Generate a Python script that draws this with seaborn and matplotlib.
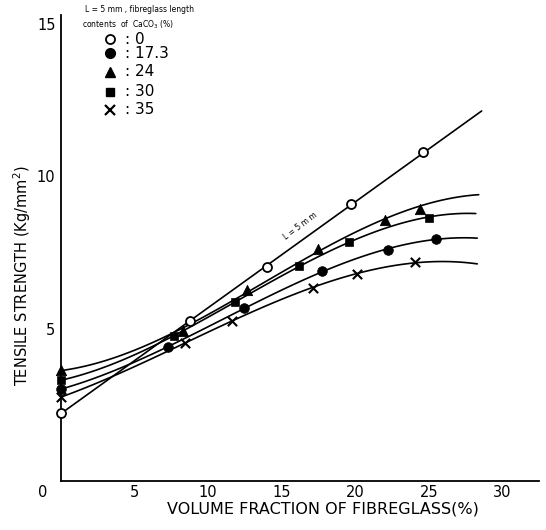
import numpy as np
import pandas as pd
import matplotlib
matplotlib.use("Agg")
import matplotlib.pyplot as plt
import matplotlib.transforms as mtransforms
from matplotlib.lines import Line2D
import seaborn as sns

# ---------------- data ----------------
caco3_levels = ["0", "17.3", "24", "30", "35"]

x_c0 = [0.0, 8.8, 14.0, 19.7, 24.6]
y_c0 = [2.23, 5.25, 7.02, 9.08, 10.79]

x_c173 = [0.0, 7.3, 12.45, 17.75, 22.2, 25.5]
y_c173 = [3.02, 4.39, 5.67, 6.89, 7.57, 7.93]

x_c24 = [0.0, 8.3, 12.65, 17.5, 22.0, 24.4]
y_c24 = [3.64, 4.92, 6.26, 7.61, 8.56, 8.92]

x_c30 = [0.0, 7.7, 11.8, 16.2, 19.6, 25.0]
y_c30 = [3.31, 4.75, 5.87, 7.05, 7.84, 8.62]

x_c35 = [0.0, 8.4, 11.6, 17.1, 20.1, 24.1]
y_c35 = [2.75, 4.52, 5.25, 6.33, 6.79, 7.18]

# where each drawn curve ends (no marker there)
x_curve_end = [28.6, 28.3, 28.4, 28.2, 28.3]
y_curve_end = [12.1, 7.97, 9.44, 8.79, 7.11]

x_ticks = [0, 5, 10, 15, 20, 25, 30]
y_ticks = [5, 10, 15]

# ---------------- figure ----------------
sns.set_style("white")
plt.rcParams["font.family"] = ["DejaVu Sans"]
plt.rcParams["text.color"] = "black"
plt.rcParams["axes.labelcolor"] = "black"
plt.rcParams["xtick.color"] = "black"
plt.rcParams["ytick.color"] = "black"

W, H = 546, 530
fig = plt.figure(figsize=(W / 100, H / 100), dpi=100)
ax = fig.add_axes([61 / W, 49 / H, (539 - 61) / W, (481 - 15) / H])

series = [
    (x_c0, y_c0, dict(marker="o", s=42, facecolor="white", edgecolor="black", linewidth=1.3), 1),
    (x_c173, y_c173, dict(marker="o", s=48, color="black", edgecolor="black"), 3),
    (x_c24, y_c24, dict(marker="^", s=55, color="black", edgecolor="black"), 3),
    (x_c30, y_c30, dict(marker="s", s=36, color="black", edgecolor="black"), 3),
    (x_c35, y_c35, dict(marker="x", s=45, color="black", linewidth=1.5), 3),
]

for i, (xs, ys, mk, order) in enumerate(series):
    xc = list(xs) + [x_curve_end[i]]
    yc = list(ys) + [y_curve_end[i]]
    sns.regplot(x=np.array(xc), y=np.array(yc), order=order, ci=None,
                scatter=False, truncate=True, ax=ax,
                line_kws=dict(color="black", linewidth=1.2))
    sns.scatterplot(x=xs, y=ys, ax=ax, zorder=5, legend=False, clip_on=False, **mk)

ax.set_xlim(0, 32.5)
ax.set_ylim(0, 15.28)
ax.set_xticks(x_ticks)
ax.set_xticklabels([str(t) for t in x_ticks], fontsize=10.5)
ax.set_yticks(y_ticks)
ax.set_yticklabels([str(t) for t in y_ticks], fontsize=10.5)
ax.tick_params(axis="y", direction="inout", length=4, width=1, colors="black", pad=2)
ax.tick_params(axis="x", length=0, pad=3, colors="black")

for side in ["top", "right"]:
    ax.spines[side].set_visible(False)
for side in ["left", "bottom"]:
    ax.spines[side].set_color("black")
    ax.spines[side].set_linewidth(1.3)

# shift the "0" label to the left like the reference
lbl0 = ax.get_xticklabels()[0]
lbl0.set_transform(lbl0.get_transform() + mtransforms.ScaledTranslation(-18 / 100, 0, fig.dpi_scale_trans))

ax.set_xlabel("VOLUME FRACTION OF FIBREGLASS(%)", fontsize=11.5)
ax.xaxis.set_label_coords(0.548, -0.045)
ax.set_ylabel("TENSILE STRENGTH (Kg/mm$^2$)", fontsize=10.5)
ax.yaxis.set_label_coords(-0.058, 0.44)

# annotation along the L = 5 mm line
ax.text(16.3, 8.35, "L = 5 m m", fontsize=5.5, rotation=37,
        ha="center", va="center", rotation_mode="anchor")

# legend drawn as keys in figure pixel coordinates
def fpx(x, y):
    return x / W, 1 - y / H

hx, hy = fpx(85, 10)
fig.text(hx, hy, "L = 5 mm , fibreglass length", fontsize=5.5, va="center", ha="left")
hx, hy = fpx(82, 25)
fig.text(hx, hy, "contents  of  CaCO$_3$ (%)", fontsize=5.5, va="center", ha="left")

key_rows = [39, 53, 72, 92, 110]
for i, (xs, ys, mk, order) in enumerate(series):
    kx, ky = fpx(110, key_rows[i])
    m = mk["marker"]
    kw = dict(marker=m, linestyle="none", transform=fig.transFigure, color="black")
    if i == 0:
        kw.update(markerfacecolor="white", markeredgecolor="black", markersize=6.5, markeredgewidth=1.3)
    elif m == "x":
        kw.update(markersize=7, markeredgewidth=1.6)
    elif m == "^":
        kw.update(markersize=7.5)
    elif m == "s":
        kw.update(markersize=6)
    else:
        kw.update(markersize=7)
    fig.add_artist(Line2D([kx], [ky], **kw))
    tx, ty = fpx(125, key_rows[i])
    fig.text(tx, ty, ": " + caco3_levels[i], fontsize=11, va="center", ha="left")

fig.savefig("out.png", dpi=100, facecolor="white")
